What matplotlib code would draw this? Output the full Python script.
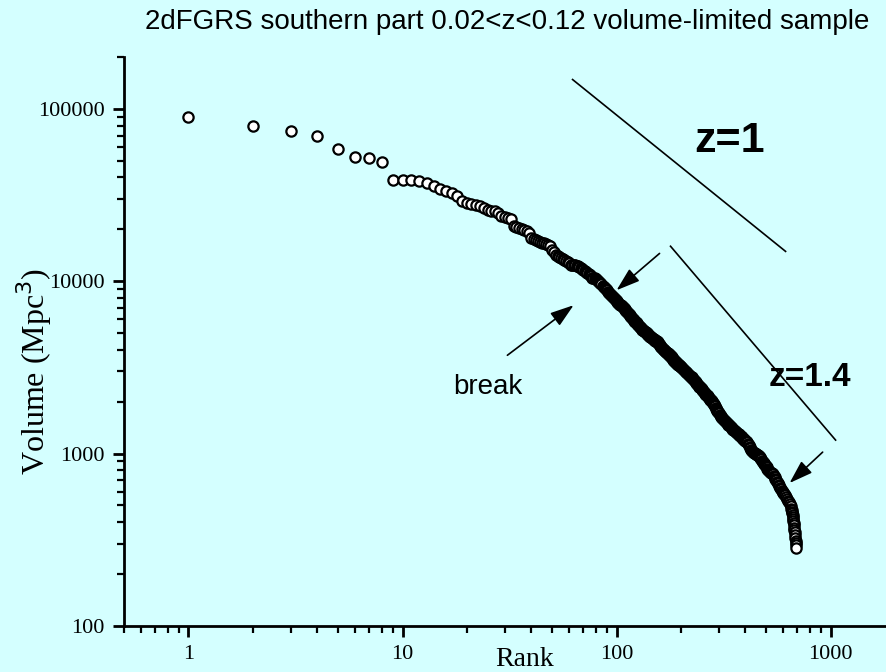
import matplotlib
matplotlib.use("Agg")
import matplotlib.pyplot as plt
from matplotlib.ticker import LogLocator, NullFormatter, FixedLocator, FixedFormatter

# ---------------------------------------------------------------------------
# Data (rank, volume in Mpc^3)
# ---------------------------------------------------------------------------

# first 60 ranks are individually resolved
rank_head = list(range(1, 61))
volume_head = [
    89300, 79200, 74000, 69300, 58300, 52300, 51600, 49000, 38500, 38500,
    38500, 38000, 37000, 35500, 34100, 33200, 32400, 31100, 29100, 28300,
    28000, 27600, 27200, 26500, 25800, 25500, 25500, 24800, 23800, 23500,
    23200, 22900, 20800, 20600, 20300, 20000, 19800, 19500, 19000, 17800,
    17500, 17300, 17100, 16800, 16600, 16600, 16400, 16200, 16000, 15100,
    14700, 14200, 14000, 13800, 13600, 13400, 13200, 13100, 12900, 12700,
]

# dense tail, read along the band
rank_tail = (list(range(61, 201)) + list(range(202, 301, 2))
             + list(range(303, 403, 3)) + list(range(406, 503, 4))
             + list(range(507, 603, 5)) + list(range(608, 657, 6))
             + list(range(658, 693, 2)))
volume_tail = [
    # 61-100
    12500, 12500, 12400, 12400, 12200, 12200, 12100, 11900, 11700, 11600,
    11400, 11300, 11100, 11000, 10800, 10700, 10500, 10500, 10400, 10300,
    10100, 10000, 9870, 9740, 9610, 9350, 9230, 9110, 8990, 8870,
    8640, 8520, 8410, 8300, 8190, 8080, 7970, 7860, 7760, 7660,
    # 101-200
    7560, 7460, 7360, 7260, 7260, 7160, 7070, 6970, 6880, 6790,
    6700, 6610, 6520, 6440, 6350, 6270, 6190, 6100, 6020, 5940,
    5860, 5790, 5790, 5710, 5630, 5560, 5490, 5410, 5410, 5340,
    5270, 5200, 5200, 5130, 5130, 5060, 5060, 5000, 4930, 4930,
    4860, 4800, 4800, 4740, 4740, 4670, 4670, 4610, 4610, 4550,
    4550, 4490, 4490, 4490, 4430, 4430, 4370, 4310, 4260, 4200,
    4140, 4140, 4090, 4040, 4040, 3980, 3980, 3930, 3930, 3880,
    3880, 3830, 3830, 3770, 3770, 3720, 3720, 3680, 3680, 3630,
    3630, 3580, 3530, 3480, 3480, 3440, 3440, 3390, 3390, 3350,
    3350, 3300, 3300, 3260, 3260, 3260, 3220, 3220, 3170, 3170,
    # 202-300
    3130, 3090, 3050, 3010, 2970, 2970, 2930, 2890, 2850, 2810,
    2780, 2780, 2740, 2700, 2670, 2630, 2600, 2560, 2530, 2500,
    2460, 2430, 2430, 2400, 2370, 2330, 2300, 2270, 2240, 2210,
    2180, 2180, 2150, 2130, 2100, 2070, 2040, 2040, 2020, 1990,
    1960, 1940, 1910, 1890, 1840, 1810, 1790, 1760, 1740, 1720,
    # 303-402
    1670, 1650, 1630, 1610, 1590, 1560, 1540, 1520, 1500, 1480,
    1460, 1460, 1440, 1420, 1410, 1390, 1370, 1370, 1350, 1330,
    1330, 1320, 1300, 1300, 1280, 1260, 1260, 1250, 1230, 1210,
    1210, 1200, 1180, 1180,
    # 406-502
    1170, 1140, 1120, 1090, 1080, 1050, 1030, 1020, 1010, 1010,
    994, 994, 981, 981, 968, 955, 942, 930, 905, 893,
    881, 870, 858, 847, 836,
    # 507-602
    814, 803, 792, 782, 771, 771, 761, 741, 731, 712,
    703, 684, 675, 657, 649, 632, 623, 607, 599, 591,
    # 608-656
    583, 576, 561, 546, 531, 524, 511, 497, 478,
    # 658-692
    472, 459, 453, 441, 430, 419, 408, 397, 386, 371,
    362, 352, 339, 325, 313, 301, 293, 285,
]

rank = rank_head + rank_tail
volume = volume_head + volume_tail
n = min(len(rank), len(volume))
if len(rank) != len(volume):
    print("length mismatch:", len(rank), len(volume))
rank, volume = rank[:n], volume[:n]

x_ticks = [1, 10, 100, 1000]
x_tick_labels = ["1", "10", "100", "1000"]
y_ticks = [100, 1000, 10000, 100000]
y_tick_labels = ["100", "1000", "10000", "100000"]

# reference slopes and arrows (rank, volume)
line_z1 = ([62.3, 616], [148000, 14900])
line_z14 = ([178.7, 1055], [15960, 1198])
arrows = [
    ((63.0, 7260), (30.9, 3720)),     # (tip, tail)
    ((100, 8870), (158.8, 14500)),
    ((643, 675), (918, 1020)),
]

BG = "#D4FFFF"
SERIF = ["Liberation Serif", "DejaVu Serif"]
SANS = ["Liberation Sans", "DejaVu Sans"]

# ---------------------------------------------------------------------------
# Plot
# ---------------------------------------------------------------------------

fig = plt.figure(figsize=(8.86, 6.72), dpi=100, facecolor=BG)
ax = fig.add_axes([0.1400, 0.0685, 0.8702, 0.8467])
ax.set_facecolor(BG)

ax.plot(rank, volume, "o", ms=7.4, mfc="white", mec="black", mew=1.6,
        linestyle="none", clip_on=False, zorder=3)

ax.set_xscale("log")
ax.set_yscale("log")
ax.set_xlim(0.5, 2000)
ax.set_ylim(100, 2e5)

for sp in ("top", "right"):
    ax.spines[sp].set_visible(False)
for sp in ("left", "bottom"):
    ax.spines[sp].set_linewidth(2.0)

ax.xaxis.set_major_locator(FixedLocator(x_ticks))
ax.xaxis.set_major_formatter(FixedFormatter(x_tick_labels))
ax.yaxis.set_major_locator(FixedLocator(y_ticks))
ax.yaxis.set_major_formatter(FixedFormatter(y_tick_labels))
ax.xaxis.set_minor_locator(LogLocator(base=10, subs=range(2, 10), numticks=20))
ax.yaxis.set_minor_locator(LogLocator(base=10, subs=range(2, 10), numticks=20))
ax.xaxis.set_minor_formatter(NullFormatter())
ax.yaxis.set_minor_formatter(NullFormatter())

ax.tick_params(which="major", direction="out", length=8, width=2, pad=6)
ax.tick_params(which="minor", direction="out", length=5, width=1.6)
for lbl in ax.get_xticklabels() + ax.get_yticklabels():
    lbl.set_family(SERIF)
    lbl.set_fontsize(16)

# slope guides
ax.plot(*line_z1, color="black", lw=1.2, clip_on=False)
ax.plot(*line_z14, color="black", lw=1.2, clip_on=False)
for tip, tail in arrows:
    ax.annotate("", xy=tip, xytext=tail,
                arrowprops=dict(arrowstyle="-|>,head_length=0.9,head_width=0.3",
                                color="black", lw=1.2, shrinkA=0, shrinkB=0,
                                mutation_scale=16))

fig.text(730 / 886, 1 - 141 / 672, "z=1", family=SANS, fontsize=31,
         fontweight="bold", ha="center", va="center")
fig.text(810 / 886, 1 - 378 / 672, "z=1.4", family=SANS, fontsize=24,
         fontweight="bold", ha="center", va="center")
fig.text(488 / 886, 1 - 387 / 672, "break", family=SANS, fontsize=20,
         ha="center", va="center")

fig.text(507 / 886, 1 - 22 / 672,
         "2dFGRS southern part 0.02<z<0.12 volume-limited sample",
         family=SANS, fontsize=20, ha="center", va="center")

fig.text(525 / 886, 1 - 659 / 672, "Rank", family=SERIF, fontsize=20,
         ha="center", va="center")
fig.text(34 / 886, 1 - 371 / 672, "Volume (Mpc$^3$)", family=SERIF,
         fontsize=23, rotation=90, ha="center", va="center")

fig.savefig("out.png", dpi=100, facecolor=BG)
